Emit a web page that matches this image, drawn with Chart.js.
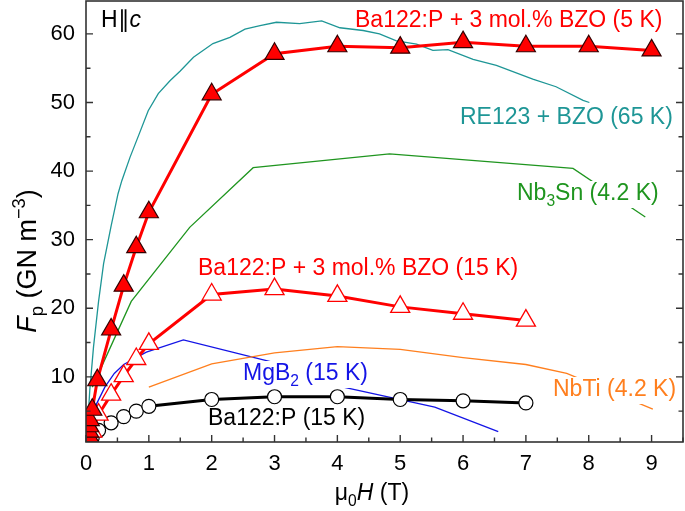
<!DOCTYPE html>
<html><head><meta charset="utf-8">
<script src="https://cdn.jsdelivr.net/npm/chart.js@4/dist/chart.umd.min.js"></script>
<style>html,body{margin:0;padding:0;background:#fff}#wrap{width:685px;height:511px}</style>
</head><body><div id="wrap"><canvas id="c" width="685" height="511"></canvas></div>
<script>
// ---- data ----
const xTicks = [0,1,2,3,4,5,6,7,8,9];
const yTicks = [10,20,30,40,50,60];

const bzo5K_x = [0.05,0.05,0.05,0.05,0.06,0.1,0.18,0.4,0.6,0.8,1,2,3,4,5,6,7,8,9];
const bzo5K_y = [0.6,1.3,2.0,2.8,3.7,5.2,9.5,16.9,23.3,28.9,34.0,51.2,57.1,58.2,58.0,58.8,58.2,58.2,57.6];

const bzo15K_x = [0.1,0.2,0.4,0.6,0.8,1,2,3,4,5,6,7];
const bzo15K_y = [2.0,4.5,7.4,10.1,12.6,14.8,22.0,22.8,21.8,20.2,19.2,18.2];

const p15K_x = [0.1,0.2,0.4,0.6,0.8,1,2,3,4,5,6,7];
const p15K_y = [1.2,2.2,3.3,4.2,5.0,5.7,6.7,7.1,7.1,6.7,6.5,6.2];

const re123_x = [0.02,0.06,0.12,0.2,0.28,0.4,0.51,0.57,0.7,0.85,0.99,1.15,1.34,1.5,1.71,2.02,2.29,2.53,2.77,3.03,3.4,3.75,4.04,4.41,4.67,4.94,5.26,5.52,5.76,6.16,6.53,7.11,7.48,7.91,8.01];
const re123_y = [2,8,14.4,21,26.5,32,36.7,38.6,42,45.5,48.8,51.3,53.2,54.6,56.6,58.6,59.5,60.7,61.2,61.7,61.5,61.9,60.9,60.5,60.0,59.0,58.5,57.6,57.7,56.3,55.4,53.4,52.3,50.3,50.0];

const nb3sn_x = [0.1,0.72,1.65,2.66,4.83,7.75,8.9];
const nb3sn_y = [8.5,21.0,31.8,40.5,42.5,40.4,33.3];

const nbti_x = [1.0,2.0,3.0,4.0,5.0,6.0,7.0,7.65,9.02];
const nbti_y = [8.5,11.9,13.5,14.4,14.0,12.8,11.8,10.5,5.3];

const mgb2_x = [0.1,0.17,0.3,0.45,0.6,0.96,1.55,2.95,4.04,5.55,6.56];
const mgb2_y = [3.5,6.1,8.5,10.5,11.8,13.6,15.4,12.2,8.6,5.6,2.0];

const pts = (xs, ys) => xs.map((x, i) => ({x, y: ys[i]}));

const FONT = '"Liberation Sans", Arial, Helvetica, sans-serif';
const RED = '#ff0000', TEAL = '#1e9696', GREEN = '#1f951f', ORANGE = '#ff7f1e', BLUE = '#1414e6';

function rich(ctx, segs, x, y, size, color, align) {
  const parts = segs.map(s => {
    const fs = (s.sub || s.sup) ? size * 0.68 : size;
    const font = (s.it ? 'italic ' : '') + fs + 'px ' + FONT;
    ctx.font = font;
    return {t: s.t, font, w: ctx.measureText(s.t).width, dy: s.sub ? size * 0.27 : (s.sup ? -size * 0.4 : 0)};
  });
  const total = parts.reduce((a, p) => a + p.w, 0);
  let cx = align === 'center' ? x - total / 2 : (align === 'right' ? x - total : x);
  ctx.textAlign = 'left'; ctx.textBaseline = 'alphabetic'; ctx.fillStyle = color;
  parts.forEach(p => { ctx.font = p.font; ctx.fillText(p.t, cx, y + p.dy); cx += p.w; });
  return total;
}

const labels = [
  {segs:[{t:'Ba122:P + 3 mol.% BZO (5 K)'}], x:355, y:26.5, c:RED, bg:false},
  {segs:[{t:'RE123 + BZO (65 K)'}], x:460, y:123.5, c:TEAL, bg:false},
  {segs:[{t:'Nb'},{t:'3',sub:true},{t:'Sn (4.2 K)'}], x:517, y:200, c:GREEN, bg:true},
  {segs:[{t:'Ba122:P + 3 mol.% BZO (15 K)'}], x:198, y:275, c:RED, bg:false},
  {segs:[{t:'MgB'},{t:'2',sub:true},{t:' (15 K)'}], x:243, y:380, c:BLUE, bg:true},
  {segs:[{t:'NbTi (4.2 K)'}], x:553, y:396, c:ORANGE, bg:true},
  {segs:[{t:'Ba122:P (15 K)'}], x:208, y:425, c:'#000', bg:false},
  {segs:[{t:'H\u2225'},{t:'c',it:true}], x:101, y:26.5, c:'#000', bg:false}
];

const overlay = {
  id: 'overlay',
  afterDatasetsDraw(chart) {
    const ctx = chart.ctx, size = 23;
    ctx.save();
    labels.forEach(l => {
      if (l.bg) {
        ctx.globalAlpha = 0;
        const w = rich(ctx, l.segs, l.x, l.y, size, l.c, 'left');
        ctx.globalAlpha = 1;
        ctx.fillStyle = '#fff';
        ctx.fillRect(l.x - 3, l.y - 19, w + 6, 27);
      }
      rich(ctx, l.segs, l.x, l.y, size, l.c, 'left');
    });
    ctx.restore();
  },
  afterDraw(chart) {
    const ctx = chart.ctx, a = chart.chartArea;
    const xs = chart.scales.x, ys = chart.scales.y;
    ctx.save();
    ctx.strokeStyle = '#333'; ctx.lineWidth = 1.6;
    ctx.strokeRect(a.left, a.top, a.right - a.left, a.bottom - a.top);
    ctx.lineWidth = 1.4;
    ctx.beginPath();
    for (let v = 0; v <= 9.5001; v += 0.5) {
      const px = xs.getPixelForValue(v);
      const len = Math.abs(v - Math.round(v)) < 1e-6 ? 7 : 4.5;
      ctx.moveTo(px, a.bottom); ctx.lineTo(px, a.bottom - len);
    }
    for (let v = 5; v <= 64; v += 5) {
      const py = ys.getPixelForValue(v);
      const len = v % 10 === 0 ? 7 : 4.5;
      ctx.moveTo(a.left, py); ctx.lineTo(a.left + len, py);
      ctx.moveTo(a.right, py); ctx.lineTo(a.right - len, py);
    }
    ctx.stroke();
    // axis titles
    rich(ctx, [{t:'\u03bc'},{t:'0',sub:true},{t:'H',it:true},{t:' (T)'}], 372, 500, 23, '#000', 'center');
    ctx.translate(36, 261);
    ctx.rotate(-Math.PI / 2);
    rich(ctx, [{t:'F',it:true},{t:'p',sub:true},{t:' (GN m'},{t:'\u22123',sup:true},{t:')'}], 0, 0, 27, '#000', 'center');
    ctx.restore();
  }
};

const thin = (data, color) => ({data, borderColor: color, borderWidth: 1.3, pointRadius: 0, fill: false, clip: 0});

new Chart(document.getElementById('c'), {
  type: 'line',
  data: {
    datasets: [
      {data: pts(bzo5K_x, bzo5K_y), borderColor: RED, borderWidth: 3, pointStyle: 'triangle', pointRadius: 11,
       pointBackgroundColor: RED, pointBorderColor: '#300', pointBorderWidth: 1.2, clip: 0},
      {data: pts(bzo15K_x, bzo15K_y), borderColor: RED, borderWidth: 3, pointStyle: 'triangle', pointRadius: 11,
       pointBackgroundColor: '#fff', pointBorderColor: RED, pointBorderWidth: 1.3, clip: 0},
      {data: pts(p15K_x, p15K_y), borderColor: '#000', borderWidth: 3, pointStyle: 'circle', pointRadius: 7,
       pointBackgroundColor: '#fff', pointBorderColor: '#000', pointBorderWidth: 1.2, clip: 0},
      thin(pts(re123_x, re123_y), TEAL),
      thin(pts(nb3sn_x, nb3sn_y), GREEN),
      thin(pts(nbti_x, nbti_y), ORANGE),
      thin(pts(mgb2_x, mgb2_y), BLUE)
    ]
  },
  options: {
    responsive: false, animation: false, devicePixelRatio: 1,
    layout: {autoPadding: false, padding: {left: 0, right: 2, top: 1, bottom: 0}},
    plugins: {legend: {display: false}, tooltip: {enabled: false}},
    elements: {line: {tension: 0}},
    scales: {
      x: {type: 'linear', min: 0, max: 9.5,
          afterFit: s => { s.height = 69; s.paddingLeft = 0; s.paddingRight = 0; },
          afterBuildTicks: s => { s.ticks = xTicks.map(v => ({value: v})); },
          grid: {display: false, drawTicks: false}, border: {display: false},
          ticks: {padding: 9, color: '#000', font: {family: FONT, size: 22}, maxRotation: 0}},
      y: {type: 'linear', min: 0.5, max: 64.8,
          afterFit: s => { s.width = 86; s.paddingTop = 0; s.paddingBottom = 0; },
          afterBuildTicks: s => { s.ticks = yTicks.map(v => ({value: v})); },
          grid: {display: false, drawTicks: false}, border: {display: false},
          ticks: {padding: 11, color: '#000', font: {family: FONT, size: 22}}}
    }
  },
  plugins: [overlay]
});
</script></body></html>
